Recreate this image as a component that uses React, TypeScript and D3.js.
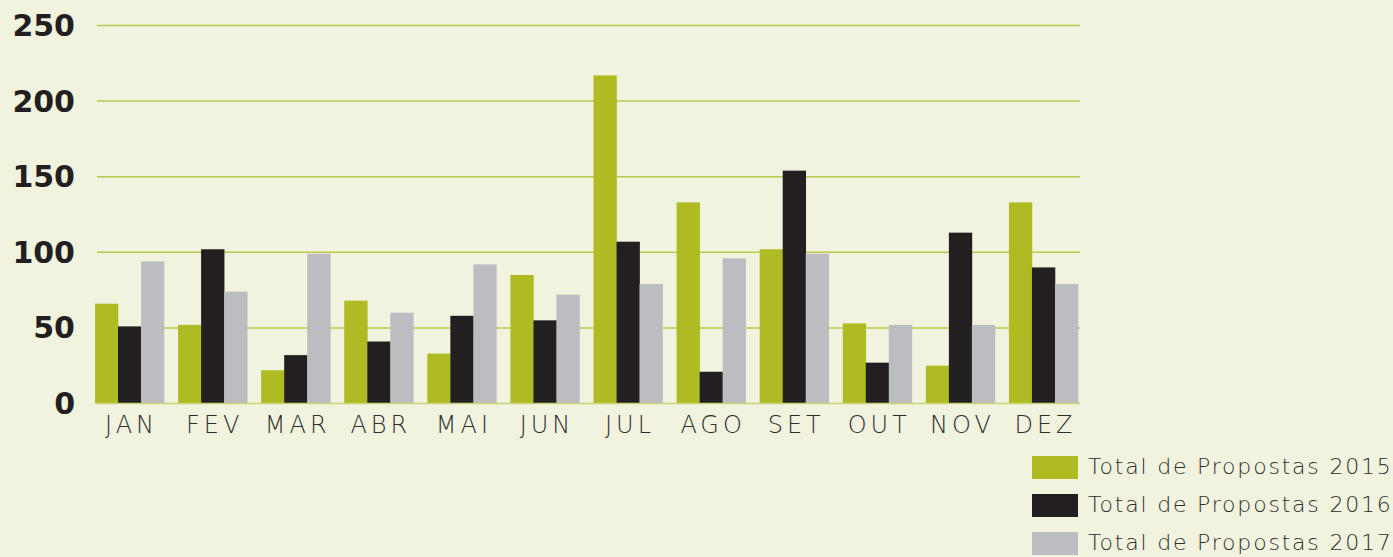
import React from "react";
import * as d3 from "d3";

const months = ["JAN", "FEV", "MAR", "ABR", "MAI", "JUN", "JUL", "AGO", "SET", "OUT", "NOV", "DEZ"];
const series = ["Total de Propostas 2015", "Total de Propostas 2016", "Total de Propostas 2017"];
const values2015 = [66, 52, 22, 68, 33, 85, 217, 133, 102, 53, 25, 133];
const values2016 = [51, 102, 32, 41, 58, 55, 107, 21, 154, 27, 113, 90];
const values2017 = [94, 74, 99, 60, 92, 72, 79, 96, 99, 52, 52, 79];
const yTicks = [0, 50, 100, 150, 200, 250];
const colors = ["#AEBB22", "#231F20", "#BCBDC0"];

const W = 1393;
const H = 557;

export default function App() {
  const data = [values2015, values2016, values2017];
  const x0 = d3.scaleBand<string>().domain(months).range([95, 1078]).paddingInner(0.1687).paddingOuter(0);
  const x1 = d3.scaleBand<number>().domain([0, 1, 2]).range([0, x0.bandwidth()]);
  const y = d3.scaleLinear().domain([0, 250]).range([403.5, 25.5]);

  return (
    <svg width={W} height={H} style={{ position: "absolute", left: 0, top: 0 }}>
      <rect x={0} y={0} width={W} height={H} fill="#F1F3DE" />
      {yTicks.map((t) => (
        <g key={t}>
          {t > 0 && (
            <line x1={97} x2={1080} y1={y(t)} y2={y(t)} stroke="#BAC84E" strokeWidth={1.5} />
          )}
          <text
            x={75}
            y={y(t) + 2}
            textAnchor="end"
            dominantBaseline="middle"
            fontFamily="DejaVu Sans"
            fontWeight="bold"
            fontSize={30}
            fill="#231F20"
          >
            {t}
          </text>
        </g>
      ))}
      {months.map((m, i) => (
        <g key={m} transform={`translate(${x0(m)},0)`}>
          {data.map((s, k) => (
            <rect
              key={k}
              x={x1(k)}
              y={y(s[i])}
              width={x1.bandwidth() + 0.3}
              height={y(0) - y(s[i])}
              fill={colors[k]}
            />
          ))}
        </g>
      ))}
      <line x1={95} x2={1080} y1={y(0)} y2={y(0)} stroke="#C9D47A" strokeWidth={1.5} />
      {months.map((m) => (
        <text
          key={m}
          x={(x0(m) as number) + x0.bandwidth() / 2 + 2}
          y={433}
          textAnchor="middle"
          fontFamily="DejaVu Sans"
          fontWeight={200}
          fontSize={24}
          letterSpacing={4}
          fill="#2E2E2E"
        >
          {m}
        </text>
      ))}
      {series.map((s, k) => (
        <g key={s} transform={`translate(1032,${456 + k * 38})`}>
          <rect x={0} y={0} width={46} height={23} fill={colors[k]} />
          <text
            x={56}
            y={12}
            dominantBaseline="middle"
            fontFamily="DejaVu Sans"
            fontWeight={200}
            fontSize={22}
            letterSpacing={1.8}
            fill="#2E2E2E"
          >
            {s}
          </text>
        </g>
      ))}
    </svg>
  );
}
